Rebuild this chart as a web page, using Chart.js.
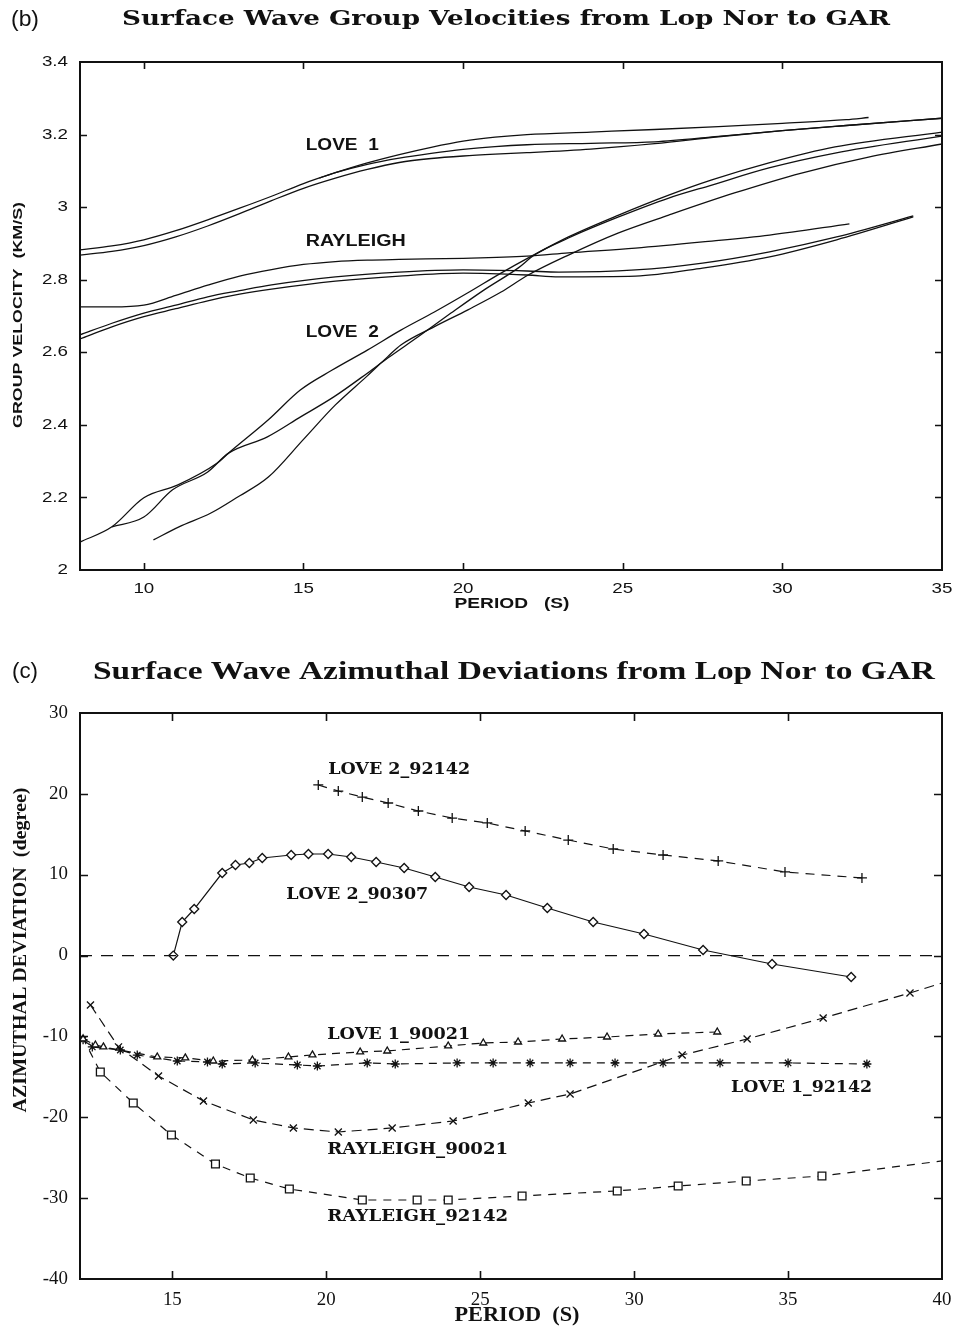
<!DOCTYPE html>
<html><head><meta charset="utf-8">
<script src="https://cdn.jsdelivr.net/npm/chart.js@4.4.1/dist/chart.umd.min.js"></script>
<style>
html,body{margin:0;padding:0;background:#fff;width:955px;height:1327px;overflow:hidden}
canvas{position:absolute;left:0}
#c1{top:0}#c2{top:640px}
</style></head>
<body>
<canvas id="c1" width="955" height="640"></canvas>
<canvas id="c2" width="955" height="687"></canvas>
<script>
// ---------- panel (b): group velocities ----------
const topPeriodTicks = [10, 15, 20, 25, 30, 35];
const topVelTicks = [2, 2.2, 2.4, 2.6, 2.8, 3, 3.2, 3.4];

const periodLove1a = [8,9,10,11,12,13,14,15,16,17,18,19,20,21,22,24,26,28,30,32,32.7];
const velLove1a    = [2.882,2.893,2.91,2.935,2.965,2.997,3.03,3.065,3.095,3.122,3.145,3.165,3.182,3.193,3.2,3.207,3.214,3.222,3.231,3.241,3.247];
const periodLove1b = [15.5,16,17,18,19,20,21,22,24,26,28,30,32,35];
const velLove1b    = [3.08,3.095,3.118,3.135,3.148,3.159,3.167,3.172,3.176,3.18,3.195,3.211,3.225,3.245];
const periodLove1c = [8,9,10,11,12,13,14,15,16,17,18,19,20,21,22,24,26,28,30,32,35];
const velLove1c    = [2.868,2.878,2.894,2.918,2.948,2.982,3.018,3.052,3.08,3.104,3.123,3.134,3.141,3.146,3.15,3.16,3.175,3.194,3.211,3.225,3.245];

const periodRay1 = [8,9,10,11,12,13,14,15,16,17,18,20,22,23.3,25.4,27.5,29.6,32.1];
const velRay1    = [2.725,2.725,2.73,2.757,2.785,2.81,2.828,2.842,2.85,2.854,2.856,2.859,2.865,2.874,2.887,2.904,2.923,2.954];
const periodRay2 = [8,9,10,11,12,13,14,16,18,20,22,23,25.4,27.5,29.6,31.7,34.1];
const velRay2    = [2.648,2.68,2.708,2.73,2.753,2.77,2.786,2.808,2.821,2.827,2.824,2.821,2.827,2.846,2.877,2.918,2.976];
const periodRay3 = [8,9,10,11,12,13,14,16,18,20,22,23,25.4,27.5,29.6,31.7,34.1];
const velRay3    = [2.637,2.67,2.698,2.72,2.742,2.76,2.774,2.796,2.81,2.818,2.813,2.808,2.81,2.832,2.863,2.91,2.973];

const periodLove2a = [8,9,10,11.05,12.3,12.65,13.9,14.9,15.9,17,18.05,19.1,20.15,21.2,22.1,23.3,24.87,26.44,27.79,29.58,31.65,35];
const velLove2a    = [2.077,2.119,2.199,2.234,2.295,2.322,2.414,2.496,2.551,2.606,2.661,2.711,2.764,2.819,2.863,2.918,2.978,3.033,3.075,3.122,3.166,3.207];
const periodLove2b = [9,10,10.9,12,12.65,13.87,14.91,15.95,17.01,17.64,18.58,19.62,20.66,21.72,22.23,23.3,24.87,26.44,27.79,29.58,31.65,35];
const velLove2b    = [2.119,2.146,2.221,2.27,2.322,2.367,2.422,2.477,2.543,2.584,2.642,2.708,2.772,2.832,2.868,2.915,2.973,3.025,3.061,3.108,3.149,3.196];
const periodLove2c = [10.3,11.1,12.1,12.9,13.9,15,16,17,17.64,18.05,19.09,20.15,21.19,22.04,23.3,24.87,26.44,28.5,30.6,32.7,35];
const velLove2c    = [2.083,2.119,2.157,2.199,2.256,2.36,2.455,2.535,2.588,2.62,2.67,2.717,2.766,2.813,2.868,2.929,2.978,3.039,3.094,3.138,3.174];

// ---------- panel (c): azimuthal deviations ----------
const botPeriodTicks = [15, 20, 25, 30, 35, 40];
const botDevTicks = [-40, -30, -20, -10, 0, 10, 20, 30];

const periodZero = [12, 40];
const devZero    = [0, 0];

const periodL2_92142 = [19.74,20.39,21.17,22.01,22.99,24.09,25.23,26.46,27.86,29.32,30.94,32.73,34.9,37.4];
const devL2_92142    = [21.1,20.35,19.6,18.87,17.88,17.01,16.4,15.41,14.29,13.18,12.44,11.7,10.34,9.6];

const periodL2_90307 = [15.03,15.32,15.71,16.62,17.05,17.5,17.92,18.86,19.42,20.06,20.81,21.62,22.53,23.54,24.64,25.84,27.18,28.67,30.32,32.24,34.48,37.05];
const devL2_90307    = [0,4.15,5.76,10.21,11.2,11.45,12.07,12.44,12.56,12.56,12.19,11.57,10.83,9.72,8.48,7.49,5.88,4.15,2.67,0.69,-1.04,-2.65];

const periodL1_90021 = [12.1,12.5,12.76,14.51,15.42,16.33,17.6,18.77,19.55,21.1,21.98,23.96,25.1,26.23,27.66,29.12,30.78,32.7];
const devL1_90021    = [-10.3,-11.06,-11.3,-12.54,-12.66,-13.04,-12.91,-12.54,-12.29,-11.92,-11.8,-11.18,-10.81,-10.69,-10.32,-10.07,-9.7,-9.45];

const periodL1_92142 = [12.1,12.4,13.31,13.86,15.16,16.14,16.62,17.69,19.06,19.71,21.33,22.24,24.25,25.42,26.62,27.92,29.38,30.94,32.79,35.0,37.56];
const devL1_92142    = [-10.4,-11.3,-11.68,-12.3,-13.04,-13.16,-13.41,-13.28,-13.53,-13.66,-13.28,-13.41,-13.28,-13.28,-13.28,-13.28,-13.28,-13.28,-13.28,-13.28,-13.41];

const periodR_90021 = [12.34,13.25,14.55,16.01,17.63,18.93,20.39,22.14,24.12,26.56,27.92,31.56,33.67,36.14,38.96,40];
const devR_90021    = [-6.11,-11.3,-14.89,-17.98,-20.33,-21.32,-21.82,-21.32,-20.46,-18.23,-17.12,-12.3,-10.32,-7.72,-4.63,-3.39];

const periodR_92142 = [12.08,12.66,13.73,14.97,16.4,17.53,18.8,21.17,22.95,23.96,26.36,29.45,31.43,33.64,36.1,40];
const devR_92142    = [-10.07,-14.4,-18.23,-22.19,-25.78,-27.51,-28.87,-30.23,-30.23,-30.23,-29.73,-29.11,-28.5,-27.88,-27.26,-25.4];

// ---------- helpers ----------
const INK = '#111';
const zip = (xs, ys) => xs.map((x, i) => ({x: x, y: ys[i]}));

function drawText(ctx, t) {
  ctx.save();
  ctx.font = t.font;
  ctx.textBaseline = 'middle';
  ctx.textAlign = 'left';
  ctx.fillStyle = INK;
  const w = ctx.measureText(t.text).width;
  const sx = t.width ? t.width / w : (t.stretch || 1);
  ctx.translate(t.x, t.y);
  if (t.rot) ctx.rotate(t.rot);
  ctx.scale(sx, 1);
  const off = t.align === 'left' ? 0 : (t.align === 'right' ? -w : -w / 2);
  ctx.fillText(t.text, off, 0);
  ctx.restore();
}

function makeDecor(cfg) {
  return {
    id: 'decor',
    afterDatasetsDraw(chart) {
      const ctx = chart.ctx, a = chart.chartArea, xs = chart.scales.x, ys = chart.scales.y;
      ctx.save();
      ctx.strokeStyle = INK;
      ctx.lineWidth = cfg.frameW;
      ctx.strokeRect(a.left, a.top, a.right - a.left, a.bottom - a.top);
      ctx.lineWidth = cfg.tickW;
      ctx.beginPath();
      cfg.xTicks.forEach(v => {
        if (v <= xs.min || v >= xs.max) return;
        const px = Math.round(xs.getPixelForValue(v)) + 0.5;
        ctx.moveTo(px, a.bottom); ctx.lineTo(px, a.bottom - cfg.tickLen);
        ctx.moveTo(px, a.top); ctx.lineTo(px, a.top + cfg.tickLen);
      });
      cfg.yTicks.forEach(v => {
        if (v <= ys.min || v >= ys.max) return;
        const py = Math.round(ys.getPixelForValue(v)) + 0.5;
        ctx.moveTo(a.left, py); ctx.lineTo(a.left + cfg.tickLen, py);
        ctx.moveTo(a.right, py); ctx.lineTo(a.right - cfg.tickLen, py);
      });
      ctx.stroke();
      ctx.restore();
      cfg.xTicks.forEach(v => drawText(ctx, {text: String(v), x: xs.getPixelForValue(v), y: a.bottom + cfg.xTickGap,
        font: cfg.tickFont, stretch: cfg.tickStretch, align: 'center'}));
      cfg.yTicks.forEach(v => drawText(ctx, {text: String(v), x: a.left - cfg.yTickGap, y: ys.getPixelForValue(v),
        font: cfg.tickFont, stretch: cfg.tickStretch, align: 'right'}));
      cfg.dataLabels.forEach(l => drawText(ctx, {text: l.text, font: l.font, width: l.width, align: 'left',
        x: xs.getPixelForValue(l.px), y: ys.getPixelForValue(l.py)}));
      cfg.texts.forEach(t => drawText(ctx, t));
    }
  };
}

function baseOptions(xmin, xmax, ymin, ymax, pad) {
  return {
    responsive: false, animation: false, devicePixelRatio: 1,
    layout: {padding: pad},
    plugins: {legend: {display: false}, tooltip: {enabled: false}, title: {display: false}},
    scales: {
      x: {type: 'linear', min: xmin, max: xmax, display: false},
      y: {type: 'linear', min: ymin, max: ymax, display: false}
    }
  };
}

// ---------- chart (b) ----------
const topSeries = [
  [periodLove1a, velLove1a], [periodLove1b, velLove1b], [periodLove1c, velLove1c],
  [periodRay1, velRay1], [periodRay2, velRay2], [periodRay3, velRay3],
  [periodLove2a, velLove2a], [periodLove2b, velLove2b], [periodLove2c, velLove2c]
];

new Chart(document.getElementById('c1'), {
  type: 'line',
  data: {
    datasets: topSeries.map(s => ({
      data: zip(s[0], s[1]),
      borderColor: INK, borderWidth: 1.3, pointRadius: 0, fill: false,
      cubicInterpolationMode: 'monotone'
    }))
  },
  options: baseOptions(8, 35, 2, 3.4, {left: 80, right: 13, top: 62, bottom: 70}),
  plugins: [makeDecor({
    frameW: 2, tickW: 1.6, tickLen: 7,
    xTicks: topPeriodTicks, yTicks: topVelTicks,
    tickFont: '15px "Liberation Sans"', tickStretch: 1.25, xTickGap: 19, yTickGap: 12,
    dataLabels: [
      {text: 'LOVE  1', px: 15.07, py: 3.171, width: 73, font: 'bold 16px "Liberation Sans"'},
      {text: 'RAYLEIGH', px: 15.07, py: 2.904, width: 100, font: 'bold 16px "Liberation Sans"'},
      {text: 'LOVE  2', px: 15.07, py: 2.653, width: 73, font: 'bold 16px "Liberation Sans"'}
    ],
    texts: [
      {text: '(b)', x: 25, y: 20, width: 28, font: '22px "Liberation Sans"'},
      {text: 'Surface Wave Group Velocities from Lop Nor to GAR', x: 506, y: 20, width: 768, font: 'bold 21px "DejaVu Serif"'},
      {text: 'GROUP VELOCITY  (KM/S)', x: 18, y: 315, rot: -Math.PI / 2, width: 226, font: 'bold 13px "Liberation Sans"'},
      {text: 'PERIOD   (S)', x: 512, y: 604, width: 115, font: 'bold 14px "Liberation Sans"'}
    ]
  })]
});

// ---------- chart (c) ----------
function devSet(p, d, style, radius, dash, opts) {
  opts = opts || {};
  const n = p.length;
  return {
    data: zip(p, d),
    borderColor: INK, borderWidth: 1.2, borderDash: dash, fill: false, tension: 0,
    pointStyle: style,
    pointRadius: p.map((_, i) => ((opts.noFirst && i === 0) || (opts.noLast && i === n - 1)) ? 0 : radius),
    pointBorderColor: INK, pointBorderWidth: 1.3,
    pointBackgroundColor: opts.hollow ? '#fff' : INK
  };
}

new Chart(document.getElementById('c2'), {
  type: 'line',
  data: {
    datasets: [
      devSet(periodZero, devZero, 'circle', 0, [12, 9], {}),
      devSet(periodL2_92142, devL2_92142, 'cross', 5, [9, 7], {}),
      devSet(periodL2_90307, devL2_90307, 'rectRot', 4.5, [], {hollow: true}),
      devSet(periodL1_90021, devL1_90021, 'triangle', 4, [8, 6], {hollow: true}),
      devSet(periodL1_92142, devL1_92142, 'star', 4.5, [8, 6], {}),
      devSet(periodR_90021, devR_90021, 'crossRot', 5, [10, 6], {noLast: true}),
      devSet(periodR_92142, devR_92142, 'rect', 5.5, [8, 7], {hollow: true, noFirst: true, noLast: true})
    ]
  },
  options: baseOptions(12, 40, -40, 30, {left: 80, right: 13, top: 73, bottom: 48}),
  plugins: [makeDecor({
    frameW: 2, tickW: 1.6, tickLen: 8,
    xTicks: botPeriodTicks, yTicks: botDevTicks,
    tickFont: '18px "Liberation Serif"', tickStretch: 1.05, xTickGap: 21, yTickGap: 12,
    dataLabels: [
      {text: 'LOVE 2_92142', px: 20.06, py: 22.95, width: 142, font: 'bold 17px "DejaVu Serif"'},
      {text: 'LOVE 2_90307', px: 18.70, py: 7.49, width: 142, font: 'bold 17px "DejaVu Serif"'},
      {text: 'LOVE 1_90021', px: 20.03, py: -9.82, width: 143, font: 'bold 17px "DejaVu Serif"'},
      {text: 'LOVE 1_92142', px: 33.15, py: -16.38, width: 141, font: 'bold 17px "DejaVu Serif"'},
      {text: 'RAYLEIGH_90021', px: 20.03, py: -24.04, width: 181, font: 'bold 17px "DejaVu Serif"'},
      {text: 'RAYLEIGH_92142', px: 20.03, py: -32.33, width: 181, font: 'bold 17px "DejaVu Serif"'}
    ],
    texts: [
      {text: '(c)', x: 25, y: 32, width: 26, font: '22px "Liberation Sans"'},
      {text: 'Surface Wave Azimuthal Deviations from Lop Nor to GAR', x: 514, y: 32, width: 842, font: 'bold 26px "Liberation Serif"'},
      {text: 'AZIMUTHAL DEVIATION  (degree)', x: 21, y: 310, rot: -Math.PI / 2, width: 325, font: 'bold 18px "Liberation Serif"'},
      {text: 'PERIOD  (S)', x: 517, y: 676, width: 125, font: 'bold 20px "Liberation Serif"'}
    ]
  })]
});
</script>
</body></html>
